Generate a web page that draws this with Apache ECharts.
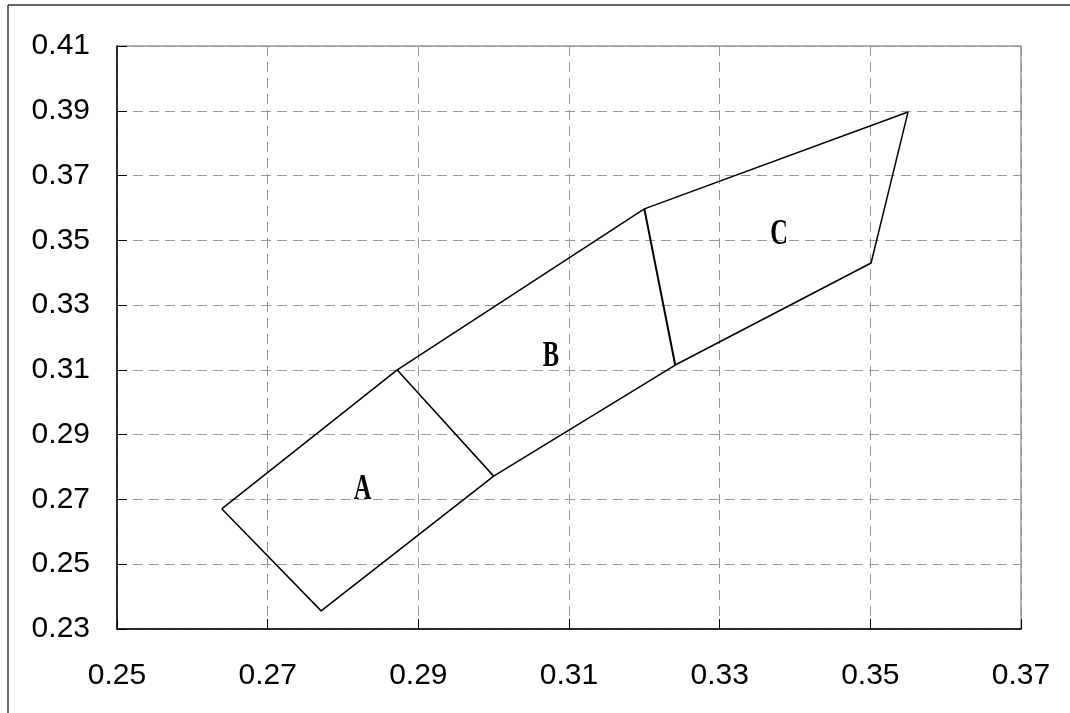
<!DOCTYPE html>
<html>
<head>
<meta charset="utf-8">
<script src="https://cdn.jsdelivr.net/npm/echarts@6/dist/echarts.min.js"></script>
<style>
  html, body { margin: 0; padding: 0; background: #fff; }
  #main { width: 1070px; height: 713px; }
</style>
</head>
<body>
<div id="main"></div>
<script>
// outline of the three regions, traced clockwise from the left corner
var outline = [
  [0.2639, 0.2671], [0.2872, 0.3100], [0.3200, 0.3597], [0.3550, 0.3896],
  [0.3501, 0.3430], [0.3241, 0.3115], [0.3000, 0.2772], [0.2771, 0.2356],
  [0.2639, 0.2671]
];
// dividing lines A|B and B|C
var divideAB = [[0.2872, 0.3100], [0.3000, 0.2772]];
var divideBC = [[0.3200, 0.3597], [0.3241, 0.3115]];
// region names and where they sit
var regionNames = ['A', 'B', 'C'];
var regionPos = [[0.2826, 0.2730], [0.3076, 0.3140], [0.3379, 0.3516]];

var xTicks = [0.25, 0.27, 0.29, 0.31, 0.33, 0.35, 0.37];
var yTicks = [0.23, 0.25, 0.27, 0.29, 0.31, 0.33, 0.35, 0.37, 0.39, 0.41];

var lineStyle = { color: '#000', width: 1.5 };
var labelFont = 'Liberation Sans, Arial, sans-serif';

var chart = echarts.init(document.getElementById('main'));
var option = {
  backgroundColor: '#fff',
  animation: false,
  graphic: [
    { type: 'line', shape: { x1: 8, y1: 5, x2: 1070, y2: 5 }, style: { stroke: '#333', lineWidth: 1.5 } },
    { type: 'line', shape: { x1: 8, y1: 5, x2: 8, y2: 713 }, style: { stroke: '#333', lineWidth: 1.5 } }
  ],
  grid: {
    left: 117, right: 49, top: 46, bottom: 84,
    show: true, borderColor: '#999', borderWidth: 1.5
  },
  xAxis: {
    type: 'value',
    min: xTicks[0], max: xTicks[xTicks.length - 1], interval: 0.02,
    axisLine: { lineStyle: { color: '#000', width: 1.5 } },
    axisTick: { inside: true, length: 10, lineStyle: { color: '#000' } },
    axisLabel: {
      margin: 32, color: '#000', fontSize: 30, fontFamily: labelFont,
      formatter: function (v) { return v.toFixed(2); }
    },
    splitLine: { show: true, lineStyle: { color: '#999', type: [10, 6], width: 1 } }
  },
  yAxis: {
    type: 'value',
    min: yTicks[0], max: yTicks[yTicks.length - 1], interval: 0.02,
    axisLine: { show: true, lineStyle: { color: '#000', width: 1.5 } },
    axisTick: { show: true, inside: true, length: 10, lineStyle: { color: '#000' } },
    axisLabel: {
      margin: 27, color: '#000', fontSize: 30, fontFamily: labelFont,
      formatter: function (v) { return v.toFixed(2); }
    },
    splitLine: { show: true, lineStyle: { color: '#999', type: [10, 6], width: 1 } }
  },
  series: [
    { type: 'line', data: outline, symbol: 'none', lineStyle: lineStyle, silent: true },
    { type: 'line', data: divideAB, symbol: 'none', lineStyle: lineStyle, silent: true },
    { type: 'line', data: divideBC, symbol: 'none', lineStyle: { color: '#000', width: 2 }, silent: true },
    {
      type: 'custom',
      data: regionPos.map(function (p, i) { return p.concat([i]); }),
      silent: true,
      renderItem: function (params, api) {
        var pt = api.coord([api.value(0), api.value(1)]);
        return {
          type: 'text',
          x: pt[0], y: pt[1],
          scaleX: 0.68,
          style: {
            text: regionNames[api.value(2)],
            fill: '#000',
            fontSize: 36,
            fontWeight: 'bold',
            fontFamily: 'Liberation Serif, serif',
            align: 'center',
            verticalAlign: 'middle'
          }
        };
      }
    }
  ]
};
chart.setOption(option);
</script>
</body>
</html>
